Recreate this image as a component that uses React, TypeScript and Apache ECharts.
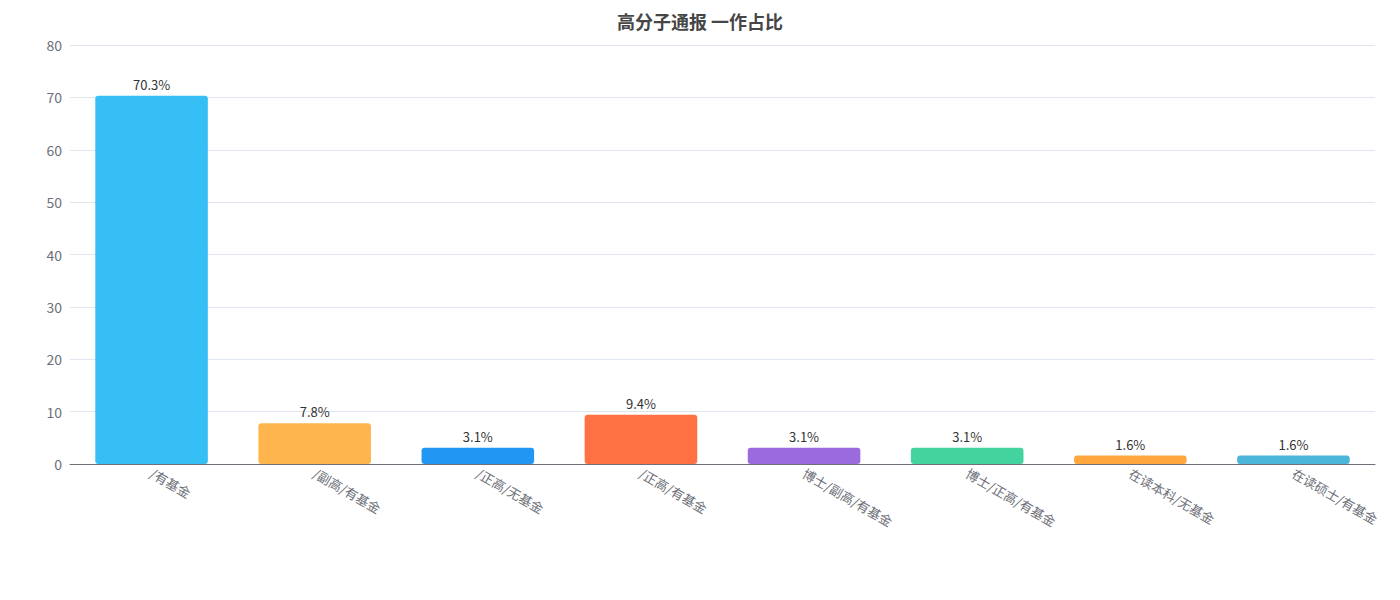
import React, { useEffect, useRef } from "react";
import * as echarts from "echarts";

const categories = [
  "/有基金",
  "/副高/有基金",
  "/正高/无基金",
  "/正高/有基金",
  "博士/副高/有基金",
  "博士/正高/有基金",
  "在读本科/无基金",
  "在读硕士/有基金",
];
const values = [70.3, 7.8, 3.1, 9.4, 3.1, 3.1, 1.6, 1.6];
const colors = [
  "#36BFF5",
  "#FFB54D",
  "#2196F3",
  "#FF7043",
  "#9B6ADE",
  "#43D39E",
  "#FFA73C",
  "#4BB6D9",
];

const App: React.FC = () => {
  const chartRef = useRef<HTMLDivElement>(null);

  useEffect(() => {
    const chart = echarts.init(chartRef.current!, undefined, { renderer: "svg" });

    const option: echarts.EChartsOption = {
      animation: false,
      textStyle: { fontFamily: "'Noto Sans CJK SC', 'Noto Sans', sans-serif" },
      title: {
        text: "高分子通报 一作占比",
        left: "center",
        top: 7,
        textStyle: { fontSize: 18, fontWeight: "bold", color: "#464646" },
      },
      grid: { left: 70, right: 25, top: 45, bottom: 136 },
      xAxis: {
        type: "category",
        data: categories,
        axisLine: { lineStyle: { color: "#6E7079" } },
        axisLabel: { rotate: -30, fontSize: 13, color: "#6E7079", interval: 0 },
      },
      yAxis: {
        type: "value",
        min: 0,
        max: 80,
        interval: 10,
        axisLabel: { fontSize: 14, color: "#6E7079" },
        splitLine: { lineStyle: { color: "#E0E6F1" } },
      },
      series: [
        {
          type: "bar",
          barWidth: "69%",
          data: values.map((v, i) => ({
            value: v,
            itemStyle: { color: colors[i] },
          })),
          itemStyle: { borderRadius: 3 },
          label: {
            show: true,
            position: "top",
            formatter: "{c}%",
            fontSize: 13,
            color: "#333",
          },
        },
      ],
    };

    chart.setOption(option);
    return () => {
      chart.dispose();
    };
  }, []);

  return <div ref={chartRef} style={{ width: "1400px", height: "600px", margin: "-8px" }} />;
};

export default App;
